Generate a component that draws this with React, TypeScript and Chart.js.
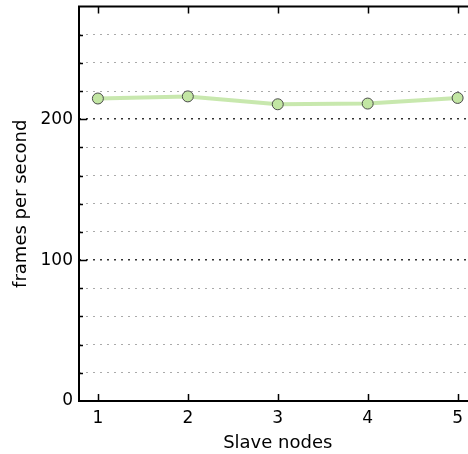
import React, { useEffect, useRef } from "react";
import { Chart, registerables } from "chart.js";

Chart.register(...registerables);

const nodes = [1, 2, 3, 4, 5];
const fps = [214.7, 216.2, 210.6, 211.1, 215.1];
const yTickLabels = [0, 100, 200];
const xLabel = "Slave nodes";
const yLabel = "frames per second";

const FONT = "'DejaVu Sans', sans-serif";

const spinesPlugin = {
  id: "spines",
  afterDraw(chart: any) {
    const { ctx, chartArea } = chart;
    const xs = chart.scales.x;
    const ys = chart.scales.y;
    const { left, top, bottom, right } = chartArea;
    ctx.save();
    ctx.strokeStyle = "#000";
    ctx.lineWidth = 2;
    ctx.beginPath();
    ctx.moveTo(left, top);
    ctx.lineTo(left, bottom);
    ctx.lineTo(right, bottom);
    ctx.lineTo(right, top);
    ctx.closePath();
    ctx.stroke();
    ctx.lineWidth = 1.5;
    ctx.beginPath();
    for (const v of nodes) {
      const px = Math.round(xs.getPixelForValue(v)) + 0.5;
      ctx.moveTo(px, bottom);
      ctx.lineTo(px, bottom - 7);
      ctx.moveTo(px, top);
      ctx.lineTo(px, top + 7);
    }
    for (let v = 20; v < 280; v += 20) {
      const py = Math.round(ys.getPixelForValue(v)) + 0.5;
      const len = v % 100 === 0 ? 8 : 4;
      ctx.moveTo(left, py);
      ctx.lineTo(left + len, py);
    }
    ctx.stroke();
    ctx.restore();
  },
};

export default function App() {
  const ref = useRef<HTMLCanvasElement>(null);
  useEffect(() => {
    if (!ref.current) return;
    const chart = new Chart(ref.current, {
      type: "line",
      data: {
        datasets: [
          {
            data: nodes.map((n, i) => ({ x: n, y: fps[i] })),
            borderColor: "rgba(190, 228, 160, 0.85)",
            borderWidth: 4,
            backgroundColor: "#c2e6a3",
            pointBackgroundColor: "#c2e6a3",
            pointBorderColor: "#4a4a4a",
            pointBorderWidth: 1,
            pointRadius: 5.5,
            tension: 0,
          },
        ],
      },
      options: {
        responsive: false,
        animation: false,
        devicePixelRatio: 1,
        layout: { padding: { top: 4, right: 2, left: 0, bottom: 0 } },
        plugins: { legend: { display: false }, tooltip: { enabled: false } },
        scales: {
          x: {
            type: "linear",
            min: 0.79,
            max: 5.21,
            afterBuildTicks: (s: any) => {
              s.ticks = nodes.map((v) => ({ value: v }));
            },
            afterFit: (s: any) => {
              s.height = 53;
              s.paddingLeft = 0;
              s.paddingRight = 0;
            },
            grid: { display: false, drawTicks: false },
            border: { display: false },
            ticks: {
              color: "#000",
              font: { family: FONT, size: 17 },
              padding: 7,
              maxRotation: 0,
              callback: (v: any) => String(v),
            },
            title: {
              display: true,
              text: xLabel,
              color: "#000",
              font: { family: FONT, size: 18 },
              padding: { top: 0, bottom: 0 },
            },
          },
          y: {
            type: "linear",
            min: 0,
            max: 280,
            afterFit: (s: any) => {
              s.width = 79;
              s.paddingTop = 0;
              s.paddingBottom = 0;
            },
            grid: {
              drawTicks: false,
              color: (c: any) => {
                const v = c.tick ? c.tick.value : 0;
                if (v === 0 || v === 280) return "rgba(0,0,0,0)";
                return v % 100 === 0 ? "#333" : "#aaa";
              },
              lineWidth: (c: any) => {
                const v = c.tick ? c.tick.value : 0;
                return v % 100 === 0 ? 1.5 : 1;
              },
            },
            border: { display: false, dash: [2, 5] },
            ticks: {
              stepSize: 20,
              color: "#000",
              font: { family: FONT, size: 17 },
              padding: 6,
              callback: (v: any) => (yTickLabels.includes(v) ? String(v) : ""),
            },
            title: {
              display: true,
              text: yLabel,
              color: "#000",
              font: { family: FONT, size: 18 },
              padding: { top: 11, bottom: 0 },
            },
          },
        },
      },
      plugins: [spinesPlugin],
    });
    return () => chart.destroy();
  }, []);
  return (
    <div
      style={{
        position: "absolute",
        left: 0,
        top: 0,
        width: 468,
        height: 454,
        overflow: "hidden",
        background: "#fff",
      }}
    >
      <canvas ref={ref} width={483} height={454} style={{ display: "block" }} />
    </div>
  );
}
